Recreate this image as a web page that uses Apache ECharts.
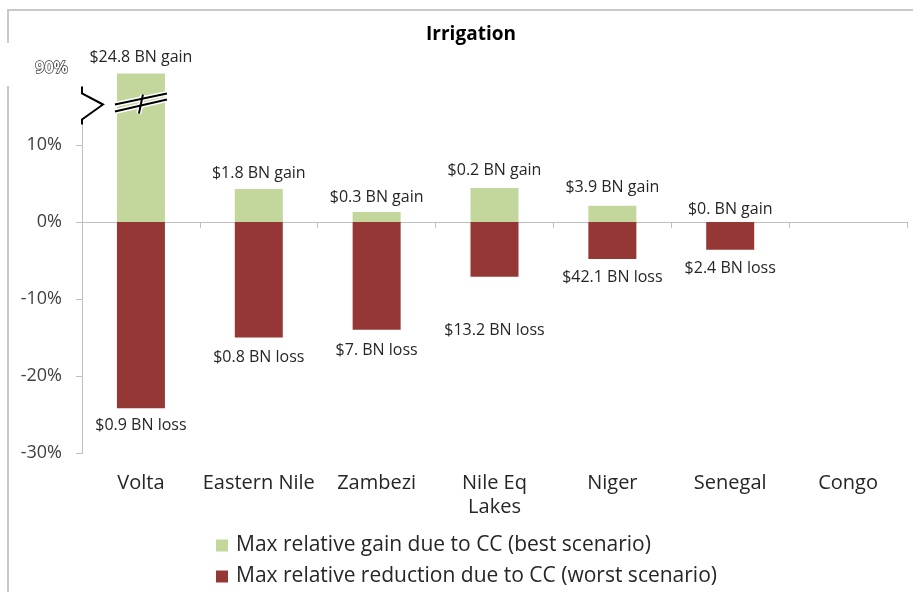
<!DOCTYPE html>
<html>
<head>
<meta charset="utf-8">
<script src="https://cdn.jsdelivr.net/npm/echarts@6/dist/echarts.min.js"></script>
<style>
  html, body { margin: 0; padding: 0; background: #fff; }
  #main { width: 913px; height: 592px; }
</style>
</head>
<body>
<div id="main"></div>
<script>
// basins on the x axis
var basins = ['Volta', 'Eastern Nile', 'Zambezi', 'Nile Eq\nLakes', 'Niger', 'Senegal', 'Congo'];
// relative change in %, Volta gain sits above the axis break
var gainPct = [89.3, 4.3, 1.3, 4.4, 2.1, 0, null];
var lossPct = [-24.2, -15.0, -14.0, -7.1, -4.8, -3.6, null];
var gainLabels = ['$24.8 BN gain', '$1.8 BN gain', '$0.3 BN gain', '$0.2 BN gain', '$3.9 BN gain', '$0. BN gain', ''];
var lossLabels = ['$0.9 BN loss', '$0.8 BN loss', '$7. BN loss', '$13.2 BN loss', '$42.1 BN loss', '$2.4 BN loss', ''];
var yTicks = [-30, -20, -10, 0, 10, 90];
var legendNames = ['Max relative gain due to CC (best scenario)', 'Max relative reduction due to CC (worst scenario)'];

// label spacing (layout only)
var gainGap = [8, 7, 7, 10, 10, 5, 0];
var lossGap = [9, 12, 13, 46, 10, 11, 0];

var FONT = '"Open Sans", Lato, sans-serif';
var GREEN = '#c3d69b';
var RED = '#953735';

var chart = echarts.init(document.getElementById('main'));

var option = {
  backgroundColor: '#fff',
  animation: false,
  title: {
    text: 'Irrigation',
    left: 466,
    top: 20,
    textAlign: 'center',
    textStyle: { fontFamily: FONT, fontSize: 19, fontWeight: 'bold', color: '#000' }
  },
  legend: {
    orient: 'vertical',
    left: 216,
    top: 535,
    padding: 0,
    itemWidth: 12,
    itemHeight: 12,
    itemGap: 10,
    icon: 'rect',
    data: legendNames,
    textStyle: { fontFamily: FONT, fontSize: 21, color: '#262626', padding: [0, 0, 0, 3] }
  },
  grid: { left: 82, right: 6, top: 68, bottom: 139, containLabel: false },
  xAxis: {
    type: 'category',
    data: basins,
    axisLine: { lineStyle: { color: '#bfbfbf', width: 1 } },
    axisTick: { show: true, alignWithLabel: false, length: 6, lineStyle: { color: '#bfbfbf' } },
    axisLabel: { fontFamily: FONT, fontSize: 20, color: '#262626', margin: 18, lineHeight: 24, interval: 0 },
    splitLine: { show: false }
  },
  yAxis: {
    type: 'value',
    min: -30,
    max: 90,
    interval: 10,
    z: 5,
    breaks: [{ start: 15, end: 85, gap: 0 }],
    breakArea: { show: false },
    axisLine: { show: true, lineStyle: { color: '#bfbfbf', width: 1 } },
    axisTick: { show: true, inside: false, length: 6, customValues: yTicks.slice(0, 5), lineStyle: { color: '#bfbfbf' } },
    splitLine: { show: false },
    axisLabel: {
      customValues: yTicks,
      margin: 20,
      fontFamily: FONT,
      fontSize: 18,
      color: '#404040',
      formatter: function (v) {
        if (v === 90) return '{o|90%}';
        return v + '%';
      },
      rich: {
        o: {
          fontFamily: FONT, fontSize: 16, fontWeight: 'bold',
          color: '#fff', textBorderColor: '#333', textBorderWidth: 1.3,
          padding: [0, -6, 0, 0]
        }
      }
    }
  },
  series: [
    {
      name: legendNames[0],
      type: 'bar',
      stack: 'cc',
      barWidth: 48,
      itemStyle: { color: GREEN },
      data: gainPct.map(function (v, i) {
        return { value: v, label: { distance: gainGap[i] } };
      }),
      label: {
        show: true,
        position: 'top',
        fontFamily: FONT,
        fontSize: 16,
        color: '#262626',
        formatter: function (p) { return gainLabels[p.dataIndex]; }
      }
    },
    {
      name: legendNames[1],
      type: 'bar',
      stack: 'cc',
      barWidth: 48,
      itemStyle: { color: RED },
      data: lossPct.map(function (v, i) {
        return { value: v, label: { distance: lossGap[i] } };
      }),
      label: {
        show: true,
        position: 'bottom',
        fontFamily: FONT,
        fontSize: 16,
        color: '#262626',
        formatter: function (p) { return lossLabels[p.dataIndex]; }
      }
    }
  ]
};

chart.setOption(option);

// break marks on the axis and on the Volta bar, plus the frame
var p = chart.convertToPixel({ gridIndex: 0 }, [0, 15]);
var cx = p[0];
var yb = p[1];
var axisX = 82;
var top90 = chart.convertToPixel({ yAxisIndex: 0 }, 90);

function stroke(points, w, c, z) {
  return { type: 'polyline', z: z, shape: { points: points }, style: { stroke: c, lineWidth: w, fill: null } };
}

var slashA = [[cx - 26, yb - 2], [cx + 26, yb - 13]];
var slashB = [[cx - 26, yb + 5], [cx + 26, yb - 7]];
var slashC = [[cx + 2, yb - 12], [cx - 2, yb + 7]];
var chevron = [[axisX, yb - 20], [axisX, yb - 13], [axisX + 21, yb - 2], [axisX, yb + 13], [axisX, yb + 18]];

chart.setOption({
  graphic: [
    { type: 'rect', z: 0, silent: true, shape: { x: 8, y: 10, width: 920, height: 600 },
      style: { fill: null, stroke: '#c8c8c8', lineWidth: 2 } },
    // white patch behind the pasted 90% label
    { type: 'rect', z: 50, silent: true, shape: { x: 2, y: 43, width: 14, height: 43 }, style: { fill: '#fff' } },
    { type: 'rect', z: 50, silent: true, shape: { x: axisX - 3, y: top90 - 2, width: 6, height: 86 - top90 + 2 }, style: { fill: '#fff' } },
    // axis chevron
    { type: 'rect', z: 50, silent: true, shape: { x: axisX - 3, y: yb - 20, width: 6, height: 38 }, style: { fill: '#fff' } },
    stroke(chevron, 2, '#000', 51),
    // bar slashes
    stroke(slashA, 5, '#fff', 51),
    stroke(slashB, 5, '#fff', 51),
    stroke(slashC, 5, '#fff', 51),
    stroke(slashA, 2, '#000', 52),
    stroke(slashB, 2, '#000', 52),
    stroke(slashC, 2, '#000', 53)
  ]
});

window.addEventListener('resize', function () { chart.resize(); });
</script>
</body>
</html>
